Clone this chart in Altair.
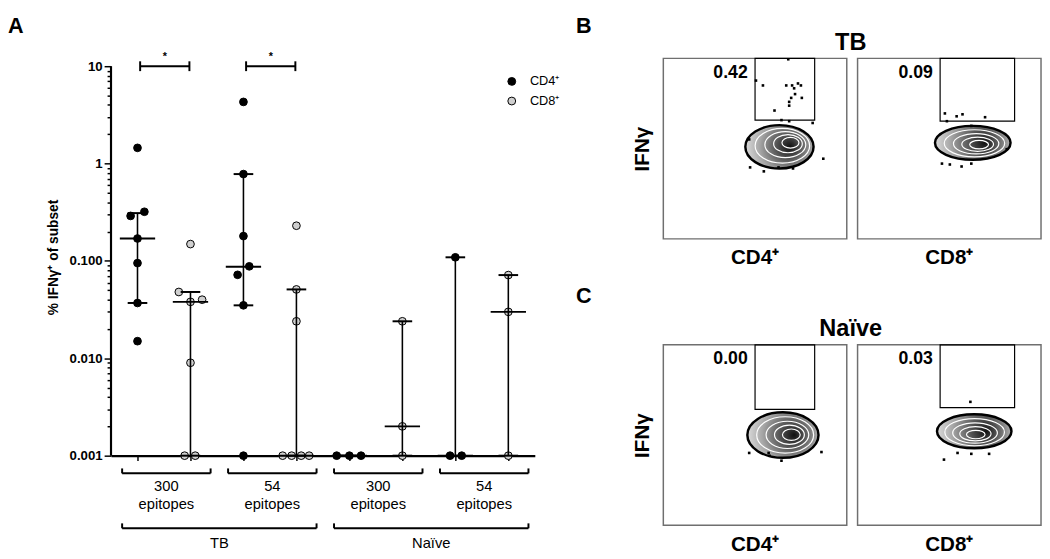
import altair as alt
import pandas as pd

FONT = "Liberation Sans"

# ======================= Panel A data =======================
subsets = ["CD4⁺", "CD8⁺"]
conditions = ["TB", "Naïve"]
epitope_sets = ["300", "54"]

# % IFNγ+ of subset, one list per group
tb300_cd4 = [1.45, 0.29, 0.32, 0.17, 0.095, 0.037, 0.015]
tb300_cd8 = [0.149, 0.048, 0.038, 0.040, 0.009, 0.001, 0.001]
tb54_cd4 = [4.3, 0.78, 0.18, 0.088, 0.072, 0.035, 0.001]
tb54_cd8 = [0.23, 0.051, 0.024, 0.001, 0.001, 0.001, 0.001]
nv300_cd4 = [0.001, 0.001, 0.001]
nv300_cd8 = [0.024, 0.002, 0.001]
nv54_cd4 = [0.109, 0.001, 0.001]
nv54_cd8 = [0.0716, 0.030, 0.001]

# horizontal jitter of each point, in category widths
tb300_cd4_jit = [0, -0.13, 0.13, 0, 0, 0, 0]
tb300_cd8_jit = [0, -0.22, 0, 0.22, 0, -0.11, 0.09]
tb54_cd4_jit = [0, 0, 0, 0.11, -0.11, 0, 0]
tb54_cd8_jit = [0, 0, 0, -0.26, -0.09, 0.09, 0.24]
nv300_cd4_jit = [-0.24, 0, 0.22]
nv300_cd8_jit = [0, 0, 0]
nv54_cd4_jit = [0, -0.1, 0.12]
nv54_cd8_jit = [0, 0, 0]

# median and interquartile range of each group (same order as groups below)
medians = [0.17, 0.038, 0.087, 0.001, 0.001, 0.002, 0.001, 0.030]
q1 = [0.037, 0.001, 0.035, 0.001, 0.001, 0.001, 0.001, 0.001]
q3 = [0.31, 0.048, 0.78, 0.051, 0.001, 0.024, 0.109, 0.0716]

# significance comparisons (group indices) and their labels
sig_pairs = [(0, 1), (2, 3)]
sig_labels = ["*", "*"]

# y axis ticks
major_vals = [0.001, 0.01, 0.1, 1, 10]
major_labels = ["0.001", "0.010", "0.100", "1", "10"]

# panel letters
panel_letters = ["A", "B", "C"]

groups = [
    ("CD4⁺", tb300_cd4, tb300_cd4_jit),
    ("CD8⁺", tb300_cd8, tb300_cd8_jit),
    ("CD4⁺", tb54_cd4, tb54_cd4_jit),
    ("CD8⁺", tb54_cd8, tb54_cd8_jit),
    ("CD4⁺", nv300_cd4, nv300_cd4_jit),
    ("CD8⁺", nv300_cd8, nv300_cd8_jit),
    ("CD4⁺", nv54_cd4, nv54_cd4_jit),
    ("CD8⁺", nv54_cd8, nv54_cd8_jit),
]
NG = len(groups)
pos = [g + 0.5 for g in range(NG)]

rows = []
for gi, (sub, vals, jit) in enumerate(groups):
    for v, j in zip(vals, jit):
        rows.append({"x": pos[gi] + j, "value": v, "subset": sub})
points_df = pd.DataFrame(rows)

summary_df = pd.DataFrame({"x": pos, "median": medians, "q1": q1, "q3": q3})
caps_df = summary_df.melt(id_vars="x", value_vars=["q1", "q3"], var_name="stat", value_name="value")

sig_df = pd.DataFrame({
    "x1": [pos[a] + 0.05 for a, b in sig_pairs],
    "x2": [pos[b] - 0.02 for a, b in sig_pairs],
    "label": sig_labels,
    "value": [major_vals[-1]] * len(sig_pairs),
})
sig_df["xm"] = (sig_df["x1"] + sig_df["x2"]) / 2
sig_ends = pd.concat([
    sig_df[["x1", "value"]].rename(columns={"x1": "xe"}),
    sig_df[["x2", "value"]].rename(columns={"x2": "xe"}),
])

# bracket annotations under the x axis
L_PAD, R_PAD = 0.29, 0.38
small_br = pd.DataFrame({
    "x1": [pos[2 * k] - L_PAD for k in range(4)],
    "x2": [pos[2 * k + 1] + R_PAD for k in range(4)],
    "line1": [epitope_sets[k % 2] for k in range(4)],
    "line2": ["epitopes"] * 4,
})
small_br["xm"] = (small_br["x1"] + small_br["x2"]) / 2
big_br = pd.DataFrame({
    "x1": [pos[4 * c] - L_PAD for c in range(2)],
    "x2": [pos[4 * c + 3] + R_PAD for c in range(2)],
    "label": conditions,
})
big_br["xm"] = (big_br["x1"] + big_br["x2"]) / 2
small_ends = pd.concat([small_br[["x1"]].rename(columns={"x1": "xe"}),
                        small_br[["x2"]].rename(columns={"x2": "xe"})])
big_ends = pd.concat([big_br[["x1"]].rename(columns={"x1": "xe"}),
                      big_br[["x2"]].rename(columns={"x2": "xe"})])

# y axis line drawn only between the lowest and highest labelled tick
axis_line_df = pd.DataFrame({"x": [0], "lo": [major_vals[0]], "hi": [major_vals[-1]]})

minor_vals = [m * d for d in major_vals[:-1] for m in range(2, 10)]
tick_vals = sorted(major_vals + minor_vals)
label_expr = " : ".join(f"datum.value == {v} ? '{l}'" for v, l in zip(major_vals, major_labels)) + " : ''"
major_test = "indexof([" + ",".join(str(v) for v in major_vals) + "], datum.value) >= 0"

DECADES_H = 397          # pixel height of the 4 labelled decades
TOP_ROOM = 8             # free room above the top tick
PX_PER_DEC = DECADES_H / 4
AW, AH = 432, DECADES_H + TOP_ROOM
y_top = major_vals[-1] * 10 ** (TOP_ROOM / PX_PER_DEC)

xscale = alt.Scale(domain=[0, NG], nice=False, zero=False)
xaxis = alt.Axis(values=pos, labels=False, title=None, grid=False, tickSize=5, tickWidth=1.5,
                 tickColor="black", domainWidth=2.2, domainColor="black")
yscale = alt.Scale(type="log", domain=[major_vals[0], y_top], nice=False)
yaxis = alt.Axis(values=tick_vals, labelExpr=label_expr, domain=False,
                 tickSize={"condition": {"test": major_test, "value": 7}, "value": 4},
                 tickWidth=1.5, tickColor="black",
                 labelFontSize=13.5, labelFontWeight="bold", labelColor="black", labelPadding=2,
                 grid=False, title="% IFNγ⁺ of subset", titleFontSize=14, titleFontWeight="bold",
                 titleColor="black", titlePadding=9)


def X(field):
    return alt.X(field, type="quantitative", scale=xscale, axis=xaxis)


def Y(field):
    return alt.Y(field, type="quantitative", scale=yscale, axis=yaxis)


axis_line = alt.Chart(axis_line_df).mark_rule(color="black", strokeWidth=2.2).encode(
    x=X("x"), y=Y("lo"), y2="hi")
pts = alt.Chart(points_df).mark_circle(size=62, stroke="black", strokeWidth=1, opacity=1).encode(
    x=X("x"), y=Y("value"),
    color=alt.Color("subset:N", scale=alt.Scale(domain=subsets, range=["#000000", "#cfcfcf"]),
                    legend=alt.Legend(title=None, orient="none", legendX=402, legendY=9 + TOP_ROOM,
                                      symbolType="circle", symbolSize=64, symbolStrokeColor="black",
                                      symbolStrokeWidth=1, symbolOpacity=1, labelFontSize=13,
                                      labelColor="black", labelOffset=12, rowPadding=6)),
)
iqr = alt.Chart(summary_df).mark_rule(color="black", strokeWidth=1.6).encode(
    x=X("x"), y=Y("q1"), y2="q3")
med = alt.Chart(summary_df).mark_tick(orient="horizontal", size=36, thickness=2, color="black", opacity=1).encode(
    x=X("x"), y=Y("median"))
caps = alt.Chart(caps_df).mark_tick(orient="horizontal", size=20, thickness=2, color="black", opacity=1).encode(
    x=X("x"), y=Y("value"))

sig_line = alt.Chart(sig_df).mark_rule(color="black", strokeWidth=2).encode(
    x=X("x1"), x2="x2", y=Y("value"))
sig_cap = alt.Chart(sig_ends).mark_tick(orient="vertical", size=10, thickness=2, color="black", opacity=1).encode(
    x=X("xe"), y=Y("value"))
sig_txt = alt.Chart(sig_df).mark_text(dy=-9, fontSize=11, fontWeight="bold", color="black").encode(
    x=X("xm"), y=Y("value"), text="label:N")

Y_SB, Y_T1, Y_T2, Y_BB, Y_BT = [v + TOP_ROOM for v in (415, 428, 446, 471, 486)]
TICK = 5
sb_line = alt.Chart(small_br).mark_rule(color="black", strokeWidth=2).encode(
    x=X("x1"), x2="x2", y=alt.value(Y_SB))
sb_end = alt.Chart(small_ends).mark_rule(color="black", strokeWidth=2).encode(
    x=X("xe"), y=alt.value(Y_SB - TICK), y2=alt.value(Y_SB))
sb_t1 = alt.Chart(small_br).mark_text(fontSize=15, color="black", baseline="middle").encode(
    x=X("xm"), y=alt.value(Y_T1), text="line1:N")
sb_t2 = alt.Chart(small_br).mark_text(fontSize=15, color="black", baseline="middle").encode(
    x=X("xm"), y=alt.value(Y_T2), text="line2:N")
bb_line = alt.Chart(big_br).mark_rule(color="black", strokeWidth=2).encode(
    x=X("x1"), x2="x2", y=alt.value(Y_BB))
bb_end = alt.Chart(big_ends).mark_rule(color="black", strokeWidth=2).encode(
    x=X("xe"), y=alt.value(Y_BB - TICK), y2=alt.value(Y_BB))
bb_t = alt.Chart(big_br).mark_text(fontSize=15, color="black", baseline="middle").encode(
    x=X("xm"), y=alt.value(Y_BT), text="label:N")


def letter(t, px, py):
    return alt.Chart(pd.DataFrame({"t": [t]})).mark_text(
        align="left", baseline="top", fontSize=22, fontWeight="bold", color="black").encode(
        x=alt.value(px), y=alt.value(py), text="t:N")


letter_a = letter(panel_letters[0], -105, -51 + TOP_ROOM)
letter_b = letter(panel_letters[1], 474, -51 + TOP_ROOM)
letter_c = letter(panel_letters[2], 474, 224 + TOP_ROOM)

panel_a = alt.layer(axis_line, pts, iqr, med, caps, sig_line, sig_cap, sig_txt,
                    sb_line, sb_end, sb_t1, sb_t2, bb_line, bb_end, bb_t,
                    letter_a, letter_b, letter_c).properties(width=AW, height=AH)

# ======================= Panels B / C data =======================
# gate rectangles (fraction of plot), percent in gate, population ellipse, densest point, outlier dots
tb_gate_x1 = [0.50, 0.45]
tb_gate_x2 = [0.825, 0.856]
tb_gate_y1 = [0.658, 0.652]
tb_pct = ["0.42", "0.09"]
tb_blob_cx = [0.633, 0.628]
tb_blob_cy = [0.51, 0.532]
tb_blob_rx = [0.186, 0.206]
tb_blob_ry = [0.12, 0.094]
tb_core_cx = [0.713, 0.674]
tb_core_cy = [0.54, 0.519]
tb_dots_cd4_x = [0.505, 0.543, 0.670, 0.702, 0.734, 0.750, 0.713, 0.718, 0.697, 0.686, 0.755, 0.686,
                 0.606, 0.681, 0.644, 0.686, 0.814, 0.872, 0.473, 0.548, 0.628, 0.707, 0.468]
tb_dots_cd4_y = [0.877, 0.850, 0.850, 0.850, 0.861, 0.850, 0.834, 0.802, 0.781, 0.759, 0.781, 0.738,
                 0.711, 0.995, 0.658, 0.652, 0.642, 0.444, 0.396, 0.374, 0.396, 0.390, 0.551]
tb_dots_cd8_x = [0.476, 0.540, 0.572, 0.695, 0.487, 0.620, 0.460, 0.503, 0.567, 0.620, 0.813]
tb_dots_cd8_y = [0.695, 0.679, 0.690, 0.674, 0.652, 0.626, 0.417, 0.412, 0.401, 0.417, 0.497]

nv_gate_x1 = [0.50, 0.45]
nv_gate_x2 = [0.825, 0.856]
nv_gate_y1 = [0.642, 0.652]
nv_pct = ["0.00", "0.03"]
nv_blob_cx = [0.652, 0.636]
nv_blob_cy = [0.50, 0.521]
nv_blob_rx = [0.194, 0.203]
nv_blob_ry = [0.126, 0.094]
nv_core_cx = [0.713, 0.647]
nv_core_cy = [0.503, 0.497]
nv_dots_cd4_x = [0.468, 0.574, 0.644, 0.862, 0.580]
nv_dots_cd4_y = [0.401, 0.401, 0.358, 0.406, 0.385]
nv_dots_cd8_x = [0.615, 0.471, 0.545, 0.620, 0.717]
nv_dots_cd8_y = [0.684, 0.364, 0.401, 0.396, 0.396]

FW, FH = 187, 184
CONTOUR_LEVELS = [0.8, 0.6, 0.42, 0.25]


def ellipse_path(k):
    return f"M-1,0A1,{k:.3f},0,1,1,1,0A1,{k:.3f},0,1,1,-1,0Z"


def flow_df(gx1, gx2, gy1, pcts, bcx, bcy, brx, bry, ccx, ccy, dots):
    r = []
    for i, s in enumerate(subsets):
        r.append(dict(kind="gate", subset=s, x=gx1[i], x2=gx2[i], y=gy1[i], y2=1.0))
        r.append(dict(kind="pct", subset=s, x=gx1[i] - 0.04, y=0.92, label=pcts[i]))
        rx_px, ry_px = brx[i] * FW, bry[i] * FH
        path = ellipse_path(ry_px / rx_px)
        r.append(dict(kind="blob", subset=s, x=bcx[i], y=bcy[i], path=path, sz=(2 * rx_px) ** 2))
        for f in CONTOUR_LEVELS:
            r.append(dict(kind="contour", subset=s,
                          x=ccx[i] + f * (bcx[i] - ccx[i]), y=ccy[i] + f * (bcy[i] - ccy[i]),
                          path=path, sz=(2 * rx_px * f) ** 2))
        dx, dy = dots[i]
        for a, b in zip(dx, dy):
            r.append(dict(kind="dot", subset=s, x=a, y=b))
    return pd.DataFrame(r)


fscale = alt.Scale(domain=[0, 1], nice=False, zero=False)
fyaxis = alt.Axis(title="IFNγ", labels=False, ticks=False, domain=False, grid=False,
                  titleFontSize=21, titleFontWeight="bold", titleColor="black", titlePadding=10)

blob_fill = alt.RadialGradient(
    gradient="radial",
    stops=[alt.GradientStop(color="#101010", offset=0),
           alt.GradientStop(color="#545454", offset=0.28),
           alt.GradientStop(color="#a6a6a6", offset=0.62),
           alt.GradientStop(color="#ececec", offset=1)],
    x1=0.66, y1=0.5, r1=0, x2=0.55, y2=0.5, r2=0.62)


def FX(f):
    return alt.X(f, type="quantitative", scale=fscale, axis=None)


def FY(f):
    return alt.Y(f, type="quantitative", scale=fscale, axis=fyaxis)


def flow_block(df, block_title, title_offset):
    base = alt.Chart()
    blob = base.mark_point(filled=True, fill=blob_fill, stroke="black", strokeWidth=2.5, opacity=1).encode(
        x=FX("x"), y=FY("y"), shape=alt.Shape("path:N", scale=None), size=alt.Size("sz:Q", scale=None)
    ).transform_filter(alt.datum.kind == "blob")
    cont = base.mark_point(filled=False, color="white", strokeWidth=1.2, opacity=1).encode(
        x=FX("x"), y=FY("y"), shape=alt.Shape("path:N", scale=None), size=alt.Size("sz:Q", scale=None)
    ).transform_filter(alt.datum.kind == "contour")
    gate = base.mark_rect(fillOpacity=0, stroke="black", strokeWidth=1.2).encode(
        x=FX("x"), x2="x2", y=FY("y"), y2="y2").transform_filter(alt.datum.kind == "gate")
    dots = base.mark_square(size=7, color="black", opacity=1).encode(
        x=FX("x"), y=FY("y")).transform_filter(alt.datum.kind == "dot")
    pct = base.mark_text(align="right", baseline="middle", fontSize=18, fontWeight="bold", color="black").encode(
        x=FX("x"), y=FY("y"), text="label:N").transform_filter(alt.datum.kind == "pct")
    cell = alt.layer(blob, cont, gate, dots, pct).properties(
        width=FW, height=FH, view=alt.ViewBackground(stroke="#6f6f6f", strokeWidth=1.5))
    return cell.facet(
        column=alt.Column("subset:N", sort=subsets, title=None,
                          header=alt.Header(labelOrient="bottom", labelFontSize=21, labelFontWeight="bold",
                                            labelColor="black", labelPadding=8)),
        data=df, spacing=9,
    ).properties(title=alt.Title(block_title, anchor="middle", frame="group", dx=FW + 4,
                                 offset=title_offset, fontSize=24, fontWeight="bold", color="black"))


tb_df = flow_df(tb_gate_x1, tb_gate_x2, tb_gate_y1, tb_pct, tb_blob_cx, tb_blob_cy, tb_blob_rx, tb_blob_ry,
                tb_core_cx, tb_core_cy, [(tb_dots_cd4_x, tb_dots_cd4_y), (tb_dots_cd8_x, tb_dots_cd8_y)])
nv_df = flow_df(nv_gate_x1, nv_gate_x2, nv_gate_y1, nv_pct, nv_blob_cx, nv_blob_cy, nv_blob_rx, nv_blob_ry,
                nv_core_cx, nv_core_cy, [(nv_dots_cd4_x, nv_dots_cd4_y), (nv_dots_cd8_x, nv_dots_cd8_y)])

panel_b = flow_block(tb_df, "TB", 2)
panel_c = flow_block(nv_df, "Naïve", 3)

right = alt.vconcat(panel_b, panel_c, spacing=49)
chart = alt.concat(panel_a, right, columns=2, align="none", spacing=41).properties(
    padding={"left": 0, "top": 2, "right": 0, "bottom": 0}
).configure(font=FONT).configure_view(strokeWidth=0)

chart.save("out.html", embed_options={"renderer": "svg", "actions": False})
